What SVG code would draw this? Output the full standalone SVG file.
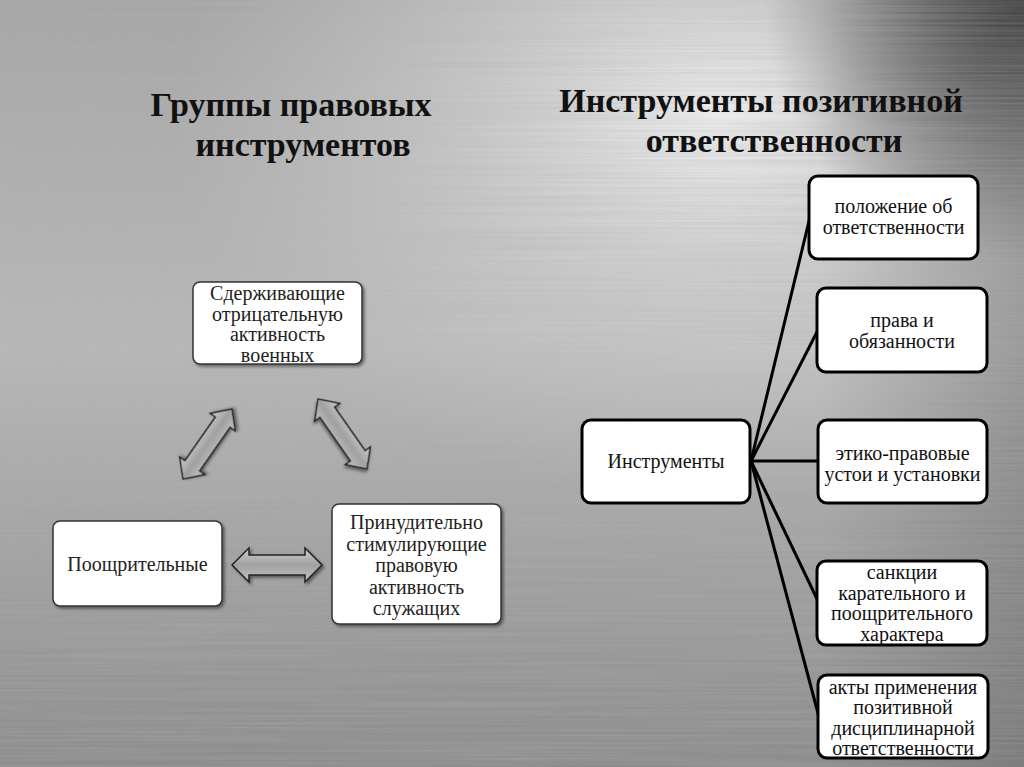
<svg xmlns="http://www.w3.org/2000/svg" width="1024" height="767" viewBox="0 0 1024 767">
<defs>
<linearGradient id="bgv" x1="0" y1="0" x2="0" y2="1">
<stop offset="0" stop-color="#a6a6a6"/>
<stop offset="0.45" stop-color="#b8b8b8"/>
<stop offset="1" stop-color="#8c8c8c"/>
</linearGradient>
<radialGradient id="hl" cx="720" cy="120" r="420" gradientUnits="userSpaceOnUse" gradientTransform="translate(720 120) scale(1.3 0.9) translate(-720 -120)">
<stop offset="0" stop-color="#f2f2f2" stop-opacity="0.95"/>
<stop offset="0.5" stop-color="#dcdcdc" stop-opacity="0.5"/>
<stop offset="1" stop-color="#d0d0d0" stop-opacity="0"/>
</radialGradient>
<radialGradient id="tr" cx="1024" cy="0" r="260" gradientUnits="userSpaceOnUse">
<stop offset="0" stop-color="#3a3a3a" stop-opacity="0.95"/>
<stop offset="1" stop-color="#3a3a3a" stop-opacity="0"/>
</radialGradient>
<linearGradient id="rt" x1="0" y1="0" x2="1" y2="0">
<stop offset="0.8" stop-color="#555" stop-opacity="0"/>
<stop offset="1" stop-color="#555" stop-opacity="0.35"/>
</linearGradient>
<filter id="brush" x="0" y="0" width="100%" height="100%">
<feTurbulence type="fractalNoise" baseFrequency="0.003 0.4" numOctaves="2" seed="3"/>
<feColorMatrix type="matrix" values="0 0 0 0 0.45  0 0 0 0 0.45  0 0 0 0 0.45  0.9 0 0 0 -0.25"/>
</filter>
<filter id="sh" x="-10%" y="-10%" width="130%" height="130%">
<feDropShadow dx="2" dy="2" stdDeviation="1.5" flood-color="#000" flood-opacity="0.45"/>
</filter>
<linearGradient id="arr" x1="0" y1="0" x2="0" y2="1">
<stop offset="0" stop-color="#d0d0d0"/>
<stop offset="0.5" stop-color="#a0a0a0"/>
<stop offset="1" stop-color="#c4c4c4"/>
</linearGradient>
<path id="dbl" d="M-45,0 L-28,-17 L-28,-10 L28,-10 L28,-17 L45,0 L28,17 L28,10 L-28,10 L-28,17 Z"/>
</defs>
<style>
.title{font-family:"Liberation Serif","Times New Roman",serif;font-weight:bold;font-size:34px;fill:#111;text-anchor:middle}
.lt{font-family:"Liberation Serif","Times New Roman",serif;font-size:20px;fill:#222;text-anchor:middle}
.rt{font-family:"Liberation Serif","Times New Roman",serif;font-size:20px;fill:#111;text-anchor:middle}
.lbox{fill:#fff;stroke:#333;stroke-width:1.5}
.rbox{fill:#fff;stroke:#000;stroke-width:3}
.conn{stroke:#000;stroke-width:3;fill:none}
.arrow{fill:url(#arr);stroke:#222;stroke-width:1.5}
</style>
<g id="background">
<rect width="1024" height="767" fill="url(#bgv)"/>
<rect width="1024" height="767" fill="url(#hl)"/>
<rect width="1024" height="767" fill="url(#rt)"/>
<rect width="1024" height="767" fill="url(#tr)"/>
<rect width="1024" height="767" filter="url(#brush)" opacity="0.6"/>
</g>
<g id="titles">
<text class="title" x="291" y="116">Группы правовых</text>
<text class="title" x="303" y="156">инструментов</text>
<text class="title" x="761" y="112">Инструменты позитивной</text>
<text class="title" x="774" y="152">ответственности</text>
</g>
<g id="arrows">
<use href="#dbl" class="arrow" filter="url(#sh)" transform="translate(207.5 444) rotate(-55) scale(0.95 0.9)"/>
<use href="#dbl" class="arrow" filter="url(#sh)" transform="translate(342.5 434) rotate(55) scale(0.95 0.9)"/>
<use href="#dbl" class="arrow" filter="url(#sh)" transform="translate(277 565) scale(1 1)"/>
</g>
<g id="node-restrain">
<rect class="lbox" filter="url(#sh)" x="193" y="282" width="169" height="82" rx="7"/>
<text class="lt" x="277.5" y="300">Сдерживающие</text>
<text class="lt" x="277.5" y="320.5">отрицательную</text>
<text class="lt" x="277.5" y="341">активность</text>
<text class="lt" x="277.5" y="361.5">военных</text>
</g>
<g id="node-encourage">
<rect class="lbox" filter="url(#sh)" x="53" y="521" width="169" height="85" rx="7"/>
<text class="lt" x="137.5" y="571">Поощрительные</text>
</g>
<g id="node-compel">
<rect class="lbox" filter="url(#sh)" x="332" y="504" width="169" height="120" rx="7"/>
<text class="lt" x="416.5" y="529">Принудительно</text>
<text class="lt" x="416.5" y="550.5">стимулирующие</text>
<text class="lt" x="416.5" y="572">правовую</text>
<text class="lt" x="416.5" y="593.5">активность</text>
<text class="lt" x="416.5" y="615">служащих</text>
</g>
<g id="connectors">
<line class="conn" x1="751" y1="461" x2="810" y2="217"/>
<line class="conn" x1="751" y1="461" x2="818" y2="330"/>
<line class="conn" x1="751" y1="461" x2="819" y2="461"/>
<line class="conn" x1="751" y1="461" x2="818" y2="601"/>
<line class="conn" x1="751" y1="461" x2="819" y2="717"/>
</g>
<g id="node-instruments">
<rect class="rbox" x="582" y="420" width="168" height="83" rx="9"/>
<text class="rt" x="666" y="468">Инструменты</text>
</g>
<g id="node-polozhenie">
<rect class="rbox" x="809" y="176" width="169" height="83" rx="9"/>
<text class="rt" x="893.5" y="213">положение об</text>
<text class="rt" x="893.5" y="234">ответственности</text>
</g>
<g id="node-prava">
<rect class="rbox" x="817" y="288" width="170" height="84" rx="9"/>
<text class="rt" x="902" y="327">права и</text>
<text class="rt" x="902" y="347.5">обязанности</text>
</g>
<g id="node-etiko">
<rect class="rbox" x="818" y="420" width="169" height="83" rx="9"/>
<text class="rt" x="902.5" y="460">этико-правовые</text>
<text class="rt" x="902.5" y="481">устои и установки</text>
</g>
<g id="node-sankcii">
<rect class="rbox" x="817" y="561" width="170" height="84" rx="9"/>
<text class="rt" x="902" y="579">санкции</text>
<text class="rt" x="902" y="599.5">карательного и</text>
<text class="rt" x="902" y="620">поощрительного</text>
<text class="rt" x="902" y="640.5">характера</text>
</g>
<g id="node-akty">
<rect class="rbox" x="818" y="675" width="170" height="83" rx="9"/>
<text class="rt" x="903" y="693.5">акты применения</text>
<text class="rt" x="903" y="714">позитивной</text>
<text class="rt" x="903" y="734.5">дисциплинарной</text>
<text class="rt" x="903" y="755">ответственности</text>
</g>
</svg>
